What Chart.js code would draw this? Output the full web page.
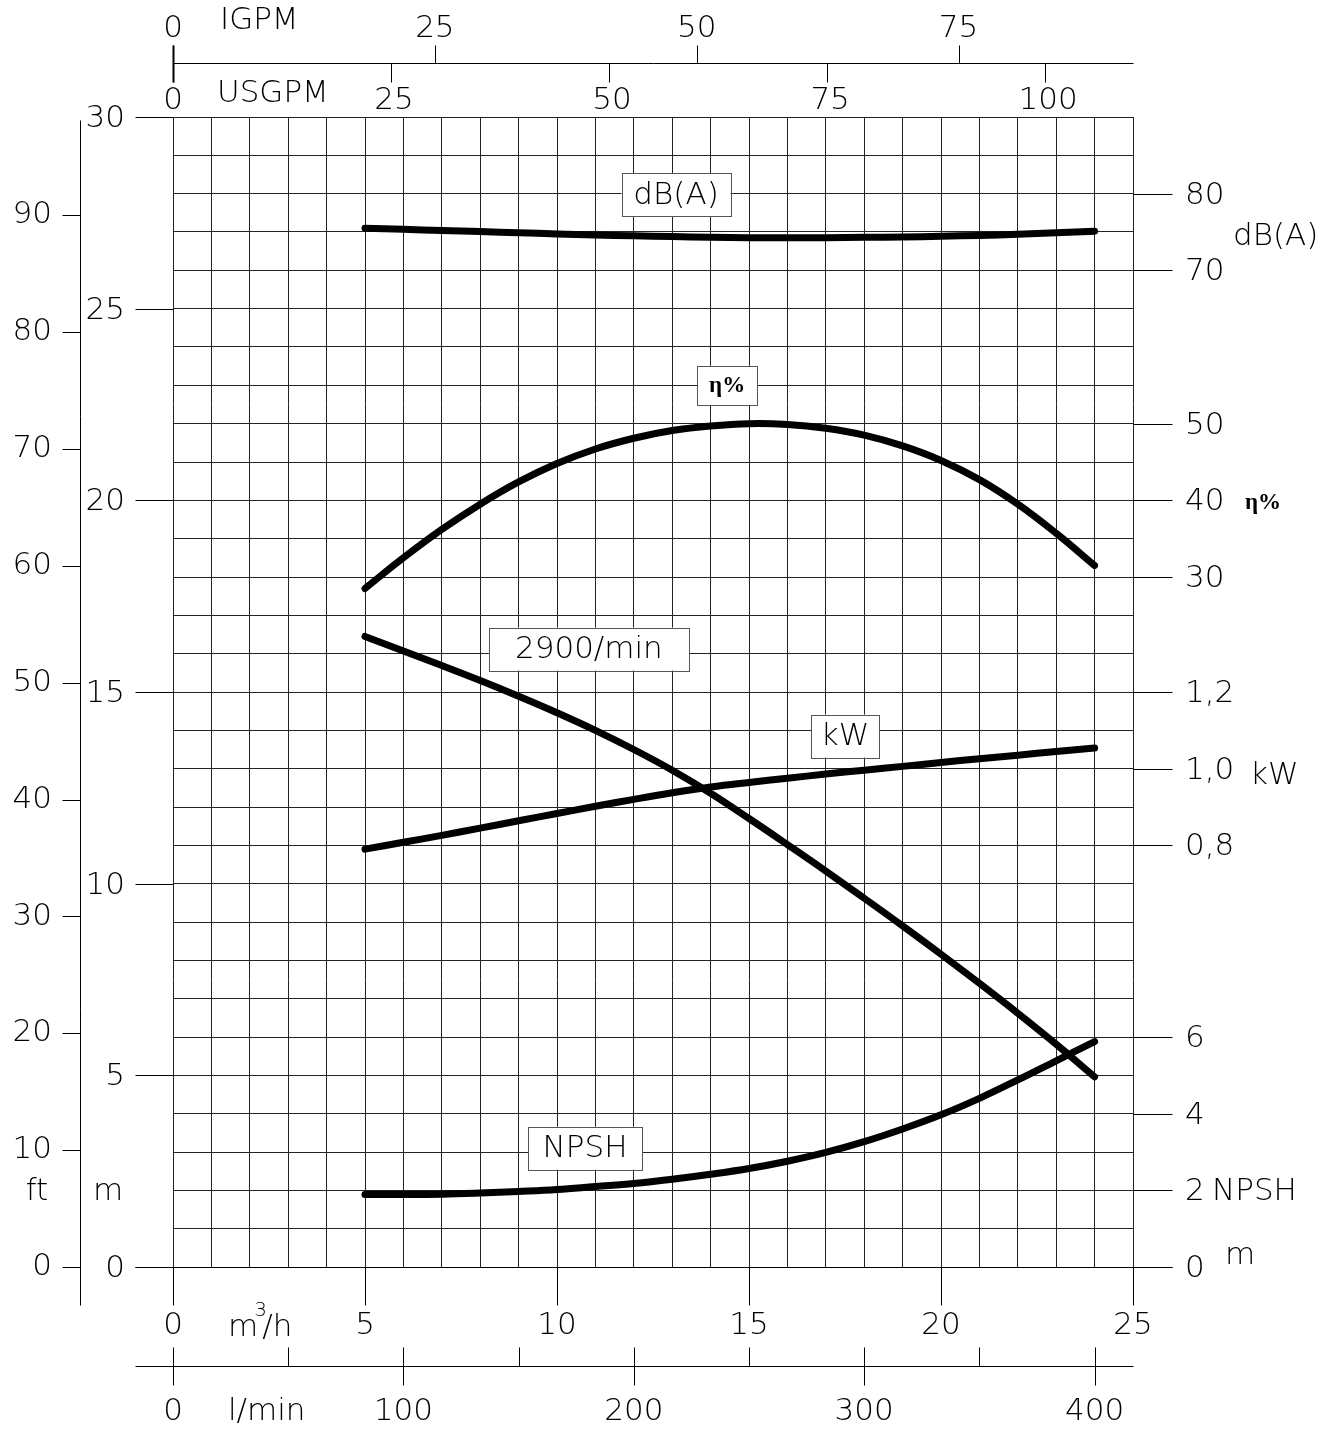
<!DOCTYPE html>
<html>
<head>
<meta charset="utf-8">
<script src="https://cdn.jsdelivr.net/npm/chart.js@4/dist/chart.umd.min.js"></script>
<style>
body { margin: 0; background: #fff; }
canvas { display: block; }
</style>
</head>
<body>
<canvas id="pumpChart" width="1342" height="1430"></canvas>
<script>
// flow, m3/h
const flow  = [5, 6, 7, 8, 9, 10, 11, 12, 13, 14, 15, 16, 17, 18, 19, 20, 21, 22, 23, 24];
// head at 2900/min, m
const head  = [16.45, 16.07, 15.69, 15.30, 14.89, 14.46, 14.00, 13.50, 12.96, 12.36, 11.70, 11.02, 10.33, 9.62, 8.90, 8.16, 7.40, 6.62, 5.81, 4.96];
// efficiency, %
const eta   = [28.5, 32.5, 36.2, 39.5, 42.4, 44.8, 46.7, 48.1, 49.1, 49.7, 50.0, 49.9, 49.4, 48.5, 47.1, 45.2, 42.7, 39.5, 35.7, 31.5];
// power, kW
const power = [0.790, 0.808, 0.826, 0.845, 0.864, 0.883, 0.902, 0.920, 0.937, 0.952, 0.964, 0.975, 0.986, 0.996, 1.006, 1.016, 1.026, 1.035, 1.045, 1.054];
// NPSH, m
const npsh  = [1.89, 1.89, 1.90, 1.93, 1.97, 2.02, 2.10, 2.18, 2.29, 2.42, 2.57, 2.76, 2.99, 3.27, 3.60, 3.97, 4.40, 4.88, 5.38, 5.88];
// noise, dB(A)
const noise = [75.5, 75.35, 75.2, 75.05, 74.9, 74.75, 74.6, 74.5, 74.4, 74.3, 74.25, 74.25, 74.25, 74.3, 74.35, 74.45, 74.55, 74.7, 74.9, 75.1];

// tick labels
const flowTicks  = [0, 5, 10, 15, 20, 25];
const lminTicks  = [0, 50, 100, 150, 200, 250, 300, 350, 400];
const usgpmTicks = [0, 25, 50, 75, 100];
const igpmTicks  = [0, 25, 50, 75];
const mTicks     = [0, 5, 10, 15, 20, 25, 30];
const ftTicks    = [0, 10, 20, 30, 40, 50, 60, 70, 80, 90];
const dbTicks    = [70, 80];
const etaTicks   = [30, 40, 50];
const kwTicks    = [0.8, 1.0, 1.2];
const npshTicks  = [0, 2, 4, 6];

const QMAX = 25, HMAX = 30;
const USGPM = 0.2271247, IGPM = 0.2727654, FT = 0.3048;

const FONT = '200 31px "DejaVu Sans"';
const pts = (ys) => flow.map((q, i) => ({ x: q, y: ys[i] }));

function curve(label, data, yAxisID) {
    return {
        label: label,
        data: pts(data),
        yAxisID: yAxisID,
        borderColor: '#000',
        borderWidth: 7,
        borderCapStyle: 'round',
        borderJoinStyle: 'round',
        pointRadius: 0,
        tension: 0.4,
        clip: false
    };
}

const hidden = (axis, min, max, position) => ({ type: 'linear', axis: axis, position: position, display: false, min: min, max: max });

// boxed curve names, placed in m3/h and m
const boxes = [
    { text: 'dB(A)', q: 13.1, h: 27.97, w: 109, serif: false },
    { text: 'η%', q: 14.43, h: 23.0, w: 60, serif: true },
    { text: '2900/min', q: 10.83, h: 16.12, w: 200, serif: false },
    { text: 'kW', q: 17.5, h: 13.85, w: 68, serif: false },
    { text: 'NPSH', q: 10.73, h: 3.1, w: 114, serif: false }
];

const cadAxes = {
    id: 'cadAxes',
    afterDatasetsDraw(chart) {
        const { ctx, scales: s } = chart;
        ctx.save();
        ctx.lineWidth = 1;
        boxes.forEach(b => {
            const cx = s.x.getPixelForValue(b.q), cy = s.y.getPixelForValue(b.h);
            const hgt = b.serif ? 39 : 43;
            ctx.fillStyle = '#fff';
            ctx.fillRect(cx - b.w / 2, cy - hgt / 2, b.w, hgt);
            ctx.strokeStyle = '#555';
            ctx.strokeRect(Math.round(cx - b.w / 2) + 0.5, Math.round(cy - hgt / 2) + 0.5, b.w, hgt);
            ctx.fillStyle = '#000';
            ctx.font = b.serif ? 'bold 23px "Liberation Serif"' : FONT;
            ctx.textAlign = 'center';
            ctx.textBaseline = 'middle';
            ctx.fillText(b.text, cx, cy + 1);
        });
        ctx.restore();
    },
    afterDraw(chart) {
        const { ctx, chartArea: a, scales: s } = chart;
        ctx.save();
        ctx.strokeStyle = '#000';
        ctx.fillStyle = '#000';
        ctx.lineWidth = 1;
        ctx.font = FONT;
        const line = (x1, y1, x2, y2) => {
            ctx.beginPath();
            ctx.moveTo(Math.round(x1) + 0.5, Math.round(y1) + 0.5);
            ctx.lineTo(Math.round(x2) + 0.5, Math.round(y2) + 0.5);
            ctx.stroke();
        };
        const text = (t, x, y, align) => {
            ctx.textAlign = align || 'center';
            ctx.textBaseline = 'middle';
            ctx.fillText(t, x, y);
        };
        const dec = v => v.toFixed(1).replace('.', ',');

        // top: IGPM / USGPM
        const gy = a.top - 54;
        line(a.left, gy, a.right, gy);
        ctx.lineWidth = 2;
        line(a.left, gy - 18, a.left, gy + 19);
        ctx.lineWidth = 1;
        igpmTicks.forEach(v => {
            const x = s.igpm.getPixelForValue(v);
            line(x, gy - 18, x, gy);
            text(String(v), x, a.top - 88);
        });
        usgpmTicks.forEach(v => {
            const x = s.usgpm.getPixelForValue(v);
            line(x, gy, x, gy + 19);
            text(String(v), x + (v ? 3 : 0), a.top - 16);
        });
        text('IGPM', a.left + 47, a.top - 96, 'left');
        text('USGPM', a.left + 44, a.top - 23, 'left');

        // left: ft
        const fx = a.left - 93;
        line(fx, a.top + 3, fx, a.bottom + 38);
        ftTicks.forEach(v => {
            const y = s.ft.getPixelForValue(v);
            line(fx - 18, y, fx, y);
            text(String(v), fx - 28, y, 'right');
        });
        // left: m
        mTicks.forEach(v => {
            const y = s.y.getPixelForValue(v);
            line(a.left - 38, y, a.left, y);
            text(String(v), a.left - 48, y + 2, 'right');
        });
        const uy = s.y.getPixelForValue(1.96);
        text('ft', fx - 43, uy);
        text('m', a.left - 65, uy);

        // bottom: m3/h
        flowTicks.forEach(v => {
            const x = s.x.getPixelForValue(v);
            line(x, a.bottom, x, a.bottom + 38);
            text(String(v), x, a.bottom + 59);
        });
        ctx.textAlign = 'left';
        ctx.fillText('m', a.left + 55, a.bottom + 61);
        const mw = ctx.measureText('m').width;
        ctx.font = '200 20px "DejaVu Sans"';
        ctx.fillText('3', a.left + 55 + mw - 4, a.bottom + 44);
        ctx.font = FONT;
        ctx.fillText('/h', a.left + 55 + mw + 4, a.bottom + 61);

        // bottom: l/min
        const ly = a.bottom + 99;
        line(a.left - 38, ly, a.right, ly);
        lminTicks.forEach(v => {
            const x = s.lmin.getPixelForValue(v);
            if (v % 100 === 0) {
                line(x, ly - 19, x, ly + 19);
                text(String(v), x, a.bottom + 145);
            } else {
                line(x, ly - 19, x, ly);
            }
        });
        text('l/min', a.left + 55, a.bottom + 145, 'left');

        // right: dB(A), eta, kW, NPSH
        const rx = a.right, lx = a.right + 52;
        line(a.left - 38, a.bottom, rx + 39, a.bottom);
        const right = (scale, ticks, fmt) => ticks.forEach(v => {
            const y = scale.getPixelForValue(v);
            line(rx, y, rx + 39, y);
            text(fmt(v), lx, y + 2, 'left');
        });
        right(s.db, dbTicks, String);
        right(s.eta, etaTicks, String);
        right(s.kw, kwTicks, dec);
        right(s.npsh, npshTicks, String);
        text('dB(A)', a.right + 100, s.db.getPixelForValue(74.3), 'left');
        text('kW', a.right + 117, s.kw.getPixelForValue(0.98), 'left');
        text('NPSH', a.right + 79, s.npsh.getPixelForValue(2) + 2, 'left');
        text('m', a.right + 92, s.npsh.getPixelForValue(0.3), 'left');
        ctx.font = 'bold 23px "Liberation Serif"';
        text('η%', a.right + 112, s.eta.getPixelForValue(39.7), 'left');
        ctx.restore();
    }
};

const gridStyle = { color: '#222', lineWidth: 1, drawTicks: false };

new Chart(document.getElementById('pumpChart'), {
    type: 'line',
    data: {
        datasets: [
            curve('dB(A)', noise, 'db'),
            curve('η%', eta, 'eta'),
            curve('2900/min', head, 'y'),
            curve('kW', power, 'kw'),
            curve('NPSH', npsh, 'npsh')
        ]
    },
    options: {
        responsive: false,
        animation: false,
        events: [],
        layout: { padding: { left: 173, right: 209, top: 117, bottom: 163 } },
        plugins: { legend: { display: false }, tooltip: { enabled: false } },
        scales: {
            x: {
                type: 'linear', position: 'bottom', min: 0, max: QMAX,
                ticks: { display: false, stepSize: 1 },
                grid: gridStyle,
                border: { display: false }
            },
            y: {
                type: 'linear', position: 'left', min: 0, max: HMAX,
                ticks: { display: false, stepSize: 1 },
                grid: gridStyle,
                border: { display: false }
            },
            ft: hidden('y', 0, HMAX / FT, 'left'),
            db: hidden('y', -60, 90, 'right'),
            eta: hidden('y', -60, 90, 'right'),
            kw: hidden('y', -0.3, 2.7, 'right'),
            npsh: hidden('y', 0, HMAX, 'right'),
            usgpm: hidden('x', 0, QMAX / USGPM, 'top'),
            igpm: hidden('x', 0, QMAX / IGPM, 'top'),
            lmin: hidden('x', 0, QMAX * 1000 / 60, 'bottom')
        }
    },
    plugins: [cadAxes]
});
</script>
</body>
</html>
